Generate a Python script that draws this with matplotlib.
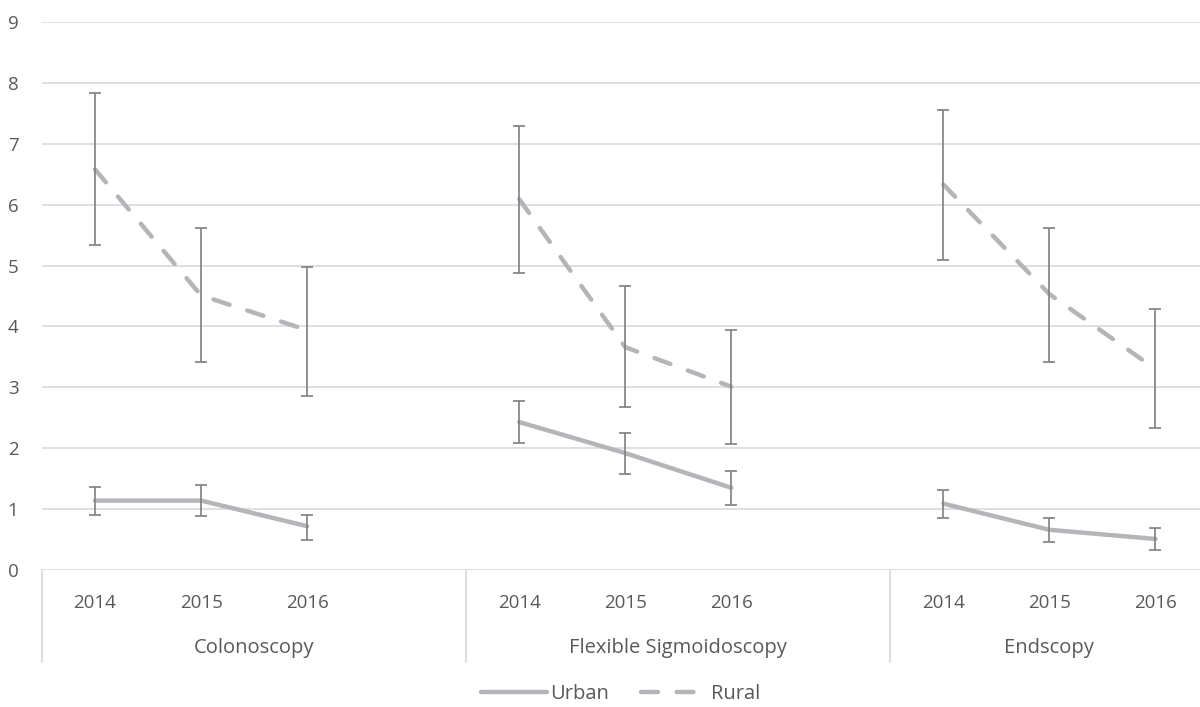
import numpy as np
import matplotlib
matplotlib.use("Agg")
import matplotlib.pyplot as plt
import matplotlib.transforms as mtransforms

plt.rcParams['font.family'] = ['Open Sans', 'DejaVu Sans']

# Data
groups = ['Colonoscopy', 'Flexible Sigmoidoscopy', 'Endscopy']
years = ['2014', '2015', '2016']

urban = [[1.14, 1.14, 0.72], [2.43, 1.92, 1.35], [1.09, 0.66, 0.51]]
urban_low = [[0.91, 0.89, 0.50], [2.09, 1.58, 1.06], [0.86, 0.46, 0.33]]
urban_high = [[1.37, 1.39, 0.91], [2.77, 2.25, 1.63], [1.32, 0.86, 0.69]]

rural = [[6.58, 4.51, 3.94], [6.09, 3.66, 3.01], [6.33, 4.53, 3.30]]
rural_low = [[5.33, 3.42, 2.85], [4.87, 2.67, 2.07], [5.09, 3.42, 2.33]]
rural_high = [[7.83, 5.62, 4.98], [7.29, 4.67, 3.94], [7.55, 5.62, 4.28]]

line_col = '#B5B5B9'
err_col = '#7F7F7F'
text_col = '#595959'
grid_col = '#D9D9D9'

fig = plt.figure(figsize=(12, 7.07), dpi=100)
ax = fig.add_axes([42 / 1200, (707 - 570) / 707, 1 - 42 / 1200, 548 / 707])

for g in range(len(groups)):
    x = np.arange(3) + g * 4
    u = np.array(urban[g])
    r = np.array(rural[g])
    ax.plot(x, u, color=line_col, lw=3.2, solid_capstyle='round', zorder=3,
            label='Urban' if g == 0 else None)
    ax.plot(x, r, color=line_col, lw=3.2, dashes=(3.8, 4.2), dash_capstyle='round', zorder=3,
            label='Rural' if g == 0 else None)
    ax.errorbar(x, u, yerr=[u - np.array(urban_low[g]), np.array(urban_high[g]) - u],
                fmt='none', ecolor=err_col, elinewidth=1.2, capsize=4.5, capthick=1.2, zorder=4)
    ax.errorbar(x, r, yerr=[r - np.array(rural_low[g]), np.array(rural_high[g]) - r],
                fmt='none', ecolor=err_col, elinewidth=1.2, capsize=4.5, capthick=1.2, zorder=4)

ax.set_xlim(-0.5, 10.42)
ax.set_ylim(0, 9)
ax.set_yticks(range(10))
ax.yaxis.grid(True, color=grid_col, lw=1.2)
ax.set_axisbelow(True)
for s in ax.spines.values():
    s.set_visible(False)
ax.set_xticks([])
ax.tick_params(axis='y', length=0, pad=17, labelsize=13.5, labelcolor=text_col)

# category axis with years and group names
trans = mtransforms.blended_transform_factory(ax.transData, ax.transAxes)
group_centres = [1.5, 5.5, 9.0]
for g, name in enumerate(groups):
    for i, yr in enumerate(years):
        ax.text(g * 4 + i, -0.06, yr, transform=trans, ha='center', va='center',
                fontsize=13.5, color=text_col)
    ax.text(group_centres[g], -0.143, name, transform=trans, ha='center', va='center',
            fontsize=14.5, color=text_col)
for sx in [-0.5, 3.5, 7.5]:
    ax.plot([sx, sx], [0, -0.168], transform=trans, color=grid_col, lw=1.2, clip_on=False)

fig.legend(loc='center', bbox_to_anchor=(0.517, (707 - 694) / 707), ncol=2, frameon=False,
           fontsize=14.5, labelcolor=text_col, handlelength=3.3, handletextpad=0.15,
           columnspacing=1.6)

fig.savefig('out.png', dpi=100)
